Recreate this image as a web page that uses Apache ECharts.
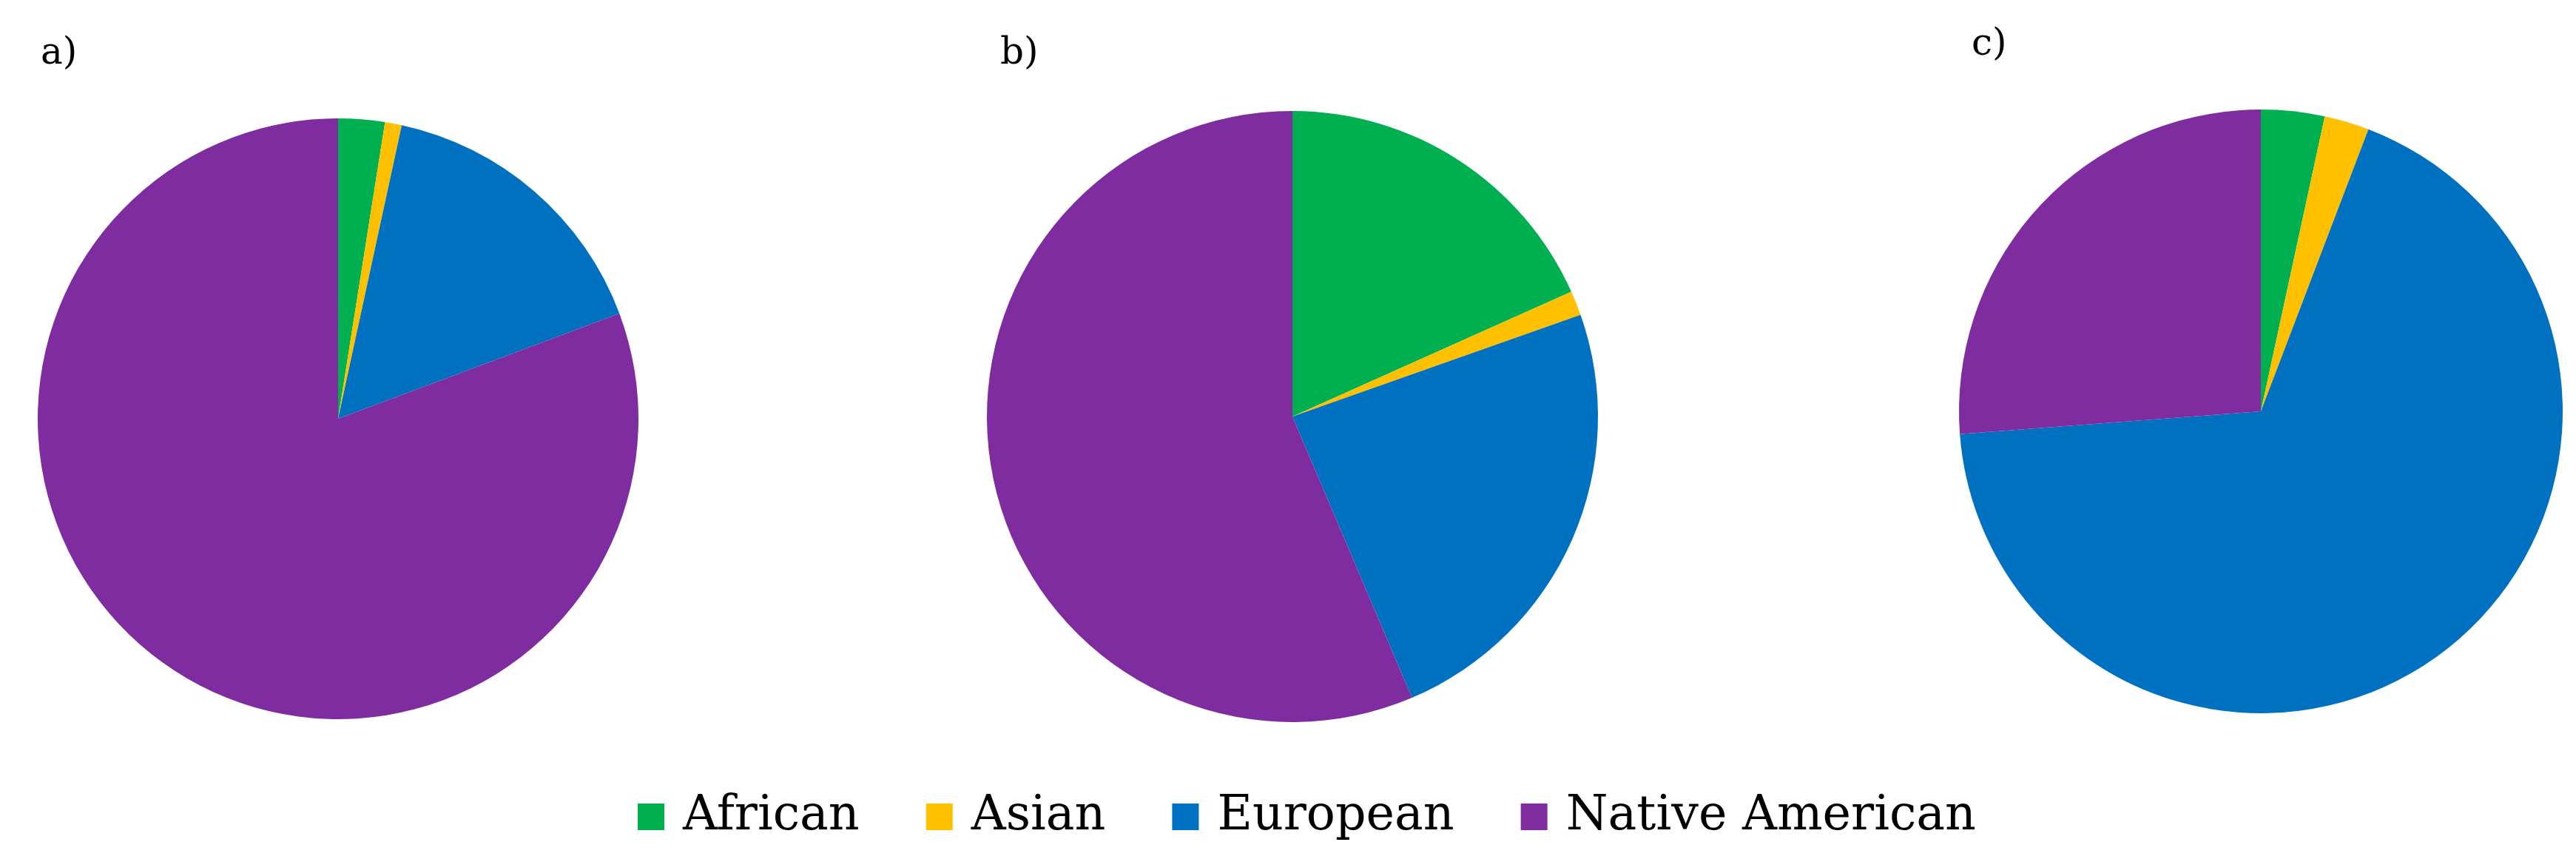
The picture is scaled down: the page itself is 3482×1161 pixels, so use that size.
<!DOCTYPE html>
<html>
<head>
<meta charset="utf-8">
<script src="https://cdn.jsdelivr.net/npm/echarts@6/dist/echarts.min.js"></script>
<style>html,body{margin:0;padding:0;background:#fff}#c{width:3482px;height:1161px}</style>
</head>
<body>
<div id="c"></div>
<script>
const categories = ['African', 'Asian', 'European', 'Native American'];
const colors = ['#00B050', '#FFC000', '#0070C0', '#7F2CA1'];
const panelLabels = ['a)', 'b)', 'c)'];
const valuesA = [2.5, 0.9, 15.9, 80.7];
const valuesB = [18.3, 1.3, 24.0, 56.4];
const valuesC = [3.4, 2.4, 68.0, 26.2];

const panels = [
  {values: valuesA, center: [457, 566], radius: 406, label: [55, 48]},
  {values: valuesB, center: [1747, 563], radius: 413, label: [1352, 48]},
  {values: valuesC, center: [3056, 556], radius: 408, label: [2665, 36]}
];

const chart = echarts.init(document.getElementById('c'));
chart.setOption({
  backgroundColor: '#ffffff',
  animation: false,
  color: colors,
  title: panels.map((p, i) => ({
    text: panelLabels[i],
    left: p.label[0],
    top: p.label[1],
    padding: 0,
    textStyle: {fontFamily: 'DejaVu Serif', fontWeight: 'normal', fontSize: 50, color: '#000'}
  })),
  legend: {
    data: categories,
    left: 862,
    top: 1068,
    padding: 0,
    itemWidth: 36,
    itemHeight: 36,
    itemGap: 90,
    icon: 'rect',
    textStyle: {fontFamily: 'DejaVu Serif', fontSize: 65, color: '#000', lineHeight: 72, padding: [0, 0, 0, 20]}
  },
  series: panels.map(p => ({
    type: 'pie',
    center: p.center,
    radius: p.radius,
    startAngle: 90,
    clockwise: true,
    label: {show: false},
    labelLine: {show: false},
    itemStyle: {borderWidth: 0},
    emphasis: {disabled: true},
    data: categories.map((name, j) => ({name: name, value: p.values[j]}))
  }))
});
</script>
</body>
</html>
